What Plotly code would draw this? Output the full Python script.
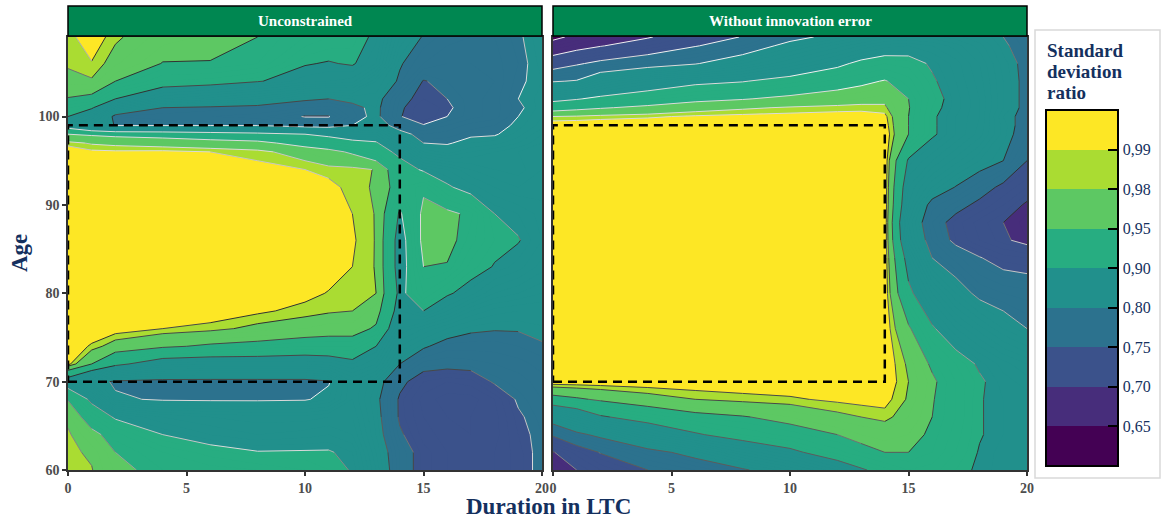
import numpy as np
import plotly.graph_objects as go

# ---------------- data ----------------
duration_unc = [0, 1, 2, 4, 6, 8, 10, 11, 12, 13, 14, 15, 16, 17, 18, 19, 20]
age_unc = [60, 62, 64, 66, 68, 70, 72, 74, 76, 78, 80, 83, 86, 89, 92, 94, 96, 97, 98, 99, 100, 101, 102, 104, 106, 109]
ratio_unc = [
    [0.985, 0.981, 0.958, 0.940, 0.935, 0.930, 0.920, 0.910, 0.898, 0.840, 0.770, 0.735, 0.720, 0.715, 0.720, 0.735, 0.760],
    [0.984, 0.977, 0.950, 0.930, 0.915, 0.902, 0.903, 0.903, 0.890, 0.830, 0.770, 0.735, 0.720, 0.715, 0.720, 0.735, 0.760],
    [0.983, 0.960, 0.935, 0.900, 0.880, 0.870, 0.875, 0.880, 0.870, 0.820, 0.755, 0.725, 0.715, 0.710, 0.715, 0.740, 0.760],
    [0.975, 0.930, 0.895, 0.870, 0.860, 0.855, 0.855, 0.860, 0.860, 0.815, 0.745, 0.720, 0.710, 0.710, 0.715, 0.745, 0.765],
    [0.948, 0.890, 0.805, 0.796, 0.795, 0.795, 0.797, 0.810, 0.850, 0.810, 0.745, 0.715, 0.705, 0.705, 0.720, 0.755, 0.770],
    [0.870, 0.815, 0.795, 0.790, 0.790, 0.790, 0.790, 0.797, 0.850, 0.820, 0.760, 0.730, 0.720, 0.725, 0.755, 0.765, 0.775],
    [0.995, 0.950, 0.910, 0.875, 0.870, 0.870, 0.870, 0.875, 0.890, 0.870, 0.800, 0.765, 0.762, 0.765, 0.770, 0.775, 0.785],
    [1.000, 0.988, 0.970, 0.955, 0.945, 0.940, 0.930, 0.930, 0.930, 0.900, 0.830, 0.805, 0.785, 0.785, 0.785, 0.790, 0.797],
    [1.000, 1.000, 0.998, 0.990, 0.985, 0.975, 0.970, 0.965, 0.965, 0.945, 0.860, 0.840, 0.820, 0.805, 0.802, 0.802, 0.808],
    [1.000, 1.000, 1.000, 1.000, 1.000, 0.993, 0.985, 0.982, 0.980, 0.965, 0.880, 0.900, 0.870, 0.840, 0.825, 0.820, 0.820],
    [1.000, 1.000, 1.000, 1.000, 1.000, 1.000, 0.995, 0.989, 0.984, 0.980, 0.890, 0.930, 0.905, 0.885, 0.860, 0.850, 0.840],
    [1.000, 1.000, 1.000, 1.000, 1.000, 1.000, 1.000, 0.998, 0.990, 0.979, 0.880, 0.950, 0.948, 0.915, 0.898, 0.885, 0.865],
    [1.000, 1.000, 1.000, 1.000, 1.000, 1.000, 1.000, 1.000, 0.992, 0.979, 0.880, 0.960, 0.960, 0.935, 0.910, 0.902, 0.880],
    [1.000, 1.000, 1.000, 1.000, 1.000, 1.000, 1.000, 0.998, 0.990, 0.979, 0.895, 0.958, 0.958, 0.943, 0.900, 0.890, 0.875],
    [1.000, 1.000, 1.000, 1.000, 1.000, 1.000, 1.000, 0.995, 0.985, 0.978, 0.930, 0.945, 0.905, 0.885, 0.870, 0.860, 0.865],
    [1.000, 1.000, 1.000, 1.000, 0.998, 0.995, 0.990, 0.985, 0.985, 0.979, 0.920, 0.895, 0.880, 0.860, 0.850, 0.845, 0.860],
    [1.000, 0.993, 0.992, 0.993, 0.990, 0.985, 0.970, 0.960, 0.945, 0.920, 0.890, 0.830, 0.815, 0.830, 0.840, 0.850, 0.860],
    [0.985, 0.978, 0.975, 0.970, 0.965, 0.960, 0.935, 0.925, 0.915, 0.905, 0.850, 0.800, 0.797, 0.810, 0.815, 0.830, 0.850],
    [0.950, 0.945, 0.940, 0.935, 0.925, 0.915, 0.900, 0.890, 0.870, 0.870, 0.820, 0.780, 0.785, 0.795, 0.797, 0.815, 0.840],
    [0.875, 0.830, 0.798, 0.798, 0.798, 0.798, 0.780, 0.775, 0.800, 0.830, 0.775, 0.752, 0.770, 0.785, 0.790, 0.805, 0.825],
    [0.900, 0.860, 0.790, 0.785, 0.780, 0.775, 0.748, 0.748, 0.785, 0.810, 0.752, 0.730, 0.750, 0.765, 0.775, 0.800, 0.820],
    [0.920, 0.905, 0.840, 0.800, 0.795, 0.790, 0.780, 0.775, 0.790, 0.810, 0.755, 0.730, 0.745, 0.765, 0.775, 0.795, 0.815],
    [0.948, 0.940, 0.900, 0.860, 0.845, 0.830, 0.805, 0.800, 0.810, 0.815, 0.760, 0.740, 0.750, 0.765, 0.775, 0.800, 0.815],
    [0.975, 0.978, 0.950, 0.920, 0.915, 0.902, 0.885, 0.880, 0.875, 0.830, 0.795, 0.748, 0.760, 0.765, 0.770, 0.795, 0.810],
    [0.982, 0.989, 0.972, 0.949, 0.949, 0.940, 0.902, 0.898, 0.903, 0.880, 0.803, 0.780, 0.770, 0.770, 0.775, 0.790, 0.815],
    [0.985, 1.000, 0.983, 0.965, 0.958, 0.950, 0.930, 0.920, 0.915, 0.893, 0.830, 0.797, 0.785, 0.780, 0.780, 0.795, 0.820],
]

duration_inn = [0, 1, 2, 4, 6, 8, 10, 12, 13, 14, 15, 16, 17, 18, 19, 20]
age_inn = [60, 62, 64, 66, 68, 70, 72, 76, 80, 84, 86, 88, 90, 92, 95, 98, 99, 100, 101, 102, 104, 106, 108, 109]
ratio_inn = [
    [0.670, 0.700, 0.720, 0.750, 0.770, 0.795, 0.830, 0.870, 0.895, 0.915, 0.930, 0.925, 0.910, 0.895, 0.885, 0.880],
    [0.698, 0.725, 0.752, 0.785, 0.815, 0.860, 0.890, 0.925, 0.940, 0.950, 0.950, 0.940, 0.920, 0.898, 0.885, 0.880],
    [0.755, 0.790, 0.810, 0.860, 0.895, 0.920, 0.935, 0.950, 0.960, 0.965, 0.960, 0.945, 0.925, 0.902, 0.890, 0.885],
    [0.830, 0.860, 0.895, 0.920, 0.940, 0.948, 0.960, 0.975, 0.980, 0.985, 0.970, 0.950, 0.930, 0.902, 0.890, 0.885],
    [0.935, 0.945, 0.955, 0.970, 0.980, 0.985, 0.988, 0.993, 0.995, 0.995, 0.978, 0.952, 0.930, 0.902, 0.890, 0.885],
    [1.000, 1.000, 1.000, 1.000, 1.000, 1.000, 1.000, 1.000, 1.000, 1.000, 0.980, 0.955, 0.930, 0.905, 0.885, 0.875],
    [1.000, 1.000, 1.000, 1.000, 1.000, 1.000, 1.000, 1.000, 1.000, 1.000, 0.977, 0.945, 0.920, 0.895, 0.875, 0.860],
    [1.000, 1.000, 1.000, 1.000, 1.000, 1.000, 1.000, 1.000, 1.000, 1.000, 0.955, 0.905, 0.870, 0.845, 0.820, 0.800],
    [1.000, 1.000, 1.000, 1.000, 1.000, 1.000, 1.000, 1.000, 1.000, 1.000, 0.910, 0.860, 0.820, 0.790, 0.780, 0.775],
    [1.000, 1.000, 1.000, 1.000, 1.000, 1.000, 1.000, 1.000, 1.000, 1.000, 0.880, 0.800, 0.775, 0.752, 0.735, 0.730],
    [1.000, 1.000, 1.000, 1.000, 1.000, 1.000, 1.000, 1.000, 1.000, 1.000, 0.850, 0.780, 0.740, 0.720, 0.705, 0.690],
    [1.000, 1.000, 1.000, 1.000, 1.000, 1.000, 1.000, 1.000, 1.000, 1.000, 0.840, 0.770, 0.735, 0.715, 0.700, 0.685],
    [1.000, 1.000, 1.000, 1.000, 1.000, 1.000, 1.000, 1.000, 1.000, 1.000, 0.860, 0.785, 0.765, 0.740, 0.720, 0.695],
    [1.000, 1.000, 1.000, 1.000, 1.000, 1.000, 1.000, 1.000, 1.000, 1.000, 0.870, 0.830, 0.798, 0.770, 0.740, 0.720],
    [1.000, 1.000, 1.000, 1.000, 1.000, 1.000, 1.000, 1.000, 1.000, 1.000, 0.895, 0.870, 0.845, 0.820, 0.800, 0.750],
    [1.000, 1.000, 1.000, 1.000, 1.000, 1.000, 1.000, 1.000, 1.000, 1.000, 0.950, 0.905, 0.880, 0.855, 0.815, 0.780],
    [1.000, 1.000, 1.000, 1.000, 1.000, 1.000, 1.000, 1.000, 1.000, 0.997, 0.950, 0.905, 0.880, 0.858, 0.815, 0.785],
    [0.980, 0.982, 0.985, 0.988, 0.992, 0.994, 0.995, 0.996, 0.996, 0.994, 0.950, 0.905, 0.880, 0.860, 0.810, 0.790],
    [0.932, 0.940, 0.947, 0.958, 0.970, 0.977, 0.982, 0.985, 0.986, 0.983, 0.952, 0.910, 0.885, 0.860, 0.820, 0.790],
    [0.886, 0.897, 0.910, 0.925, 0.940, 0.948, 0.958, 0.965, 0.970, 0.975, 0.950, 0.915, 0.885, 0.860, 0.820, 0.790],
    [0.797, 0.803, 0.840, 0.870, 0.890, 0.898, 0.915, 0.935, 0.943, 0.952, 0.935, 0.905, 0.880, 0.855, 0.820, 0.790],
    [0.727, 0.745, 0.760, 0.780, 0.797, 0.830, 0.860, 0.890, 0.910, 0.920, 0.915, 0.895, 0.875, 0.850, 0.815, 0.790],
    [0.668, 0.685, 0.698, 0.720, 0.748, 0.770, 0.815, 0.845, 0.860, 0.875, 0.880, 0.870, 0.855, 0.835, 0.805, 0.785],
    [0.640, 0.660, 0.675, 0.697, 0.725, 0.752, 0.785, 0.815, 0.830, 0.845, 0.850, 0.845, 0.835, 0.820, 0.800, 0.780],
]

band_breaks = [0.65, 0.70, 0.75, 0.80, 0.90, 0.95, 0.98, 0.99]
break_labels = ["0,65", "0,70", "0,75", "0,80", "0,90", "0,95", "0,98", "0,99"]
band_colors = ["#440154", "#472D7B", "#3B528B", "#2C728E", "#21908C",
               "#27AD81", "#5DC863", "#AADC32", "#FDE725"]
panel_titles = ["Unconstrained", "Without innovation error"]
legend_title_lines = ["Standard", "deviation", "ratio"]
box_duration = [0, 14]
box_age = [70, 99]
x_ticks = [0, 5, 10, 15, 20]
y_ticks = [60, 70, 80, 90, 100]

# ---------------- styling ----------------
W, H = 1162, 518
SERIF = "Liberation Serif"
NAVY = "#14305E"
STRIP = "#008751"
X_RANGE, Y_RANGE = [0, 20], [60, 109]
PANEL_W, PANEL_H = 474, 433          # plot-area size in px

def px_x(p):
    return p / W

def px_y(p):
    return (H - p) / H

panel_dom_x = [[px_x(68), px_x(542)], [px_x(553), px_x(1027)]]
dom_y = [px_y(470), px_y(37)]

# fill colorscale (values expressed in percent, 1-point contour steps)
lo, hi = 64.5, 99.5
def pos(v):
    return (v - lo) / (hi - lo)

fill_cs = [[0.0, band_colors[0]]]
for i, b in enumerate(band_breaks):
    p = pos(b * 100)
    fill_cs.append([p, band_colors[i]])
    fill_cs.append([p, band_colors[i + 1]])
fill_cs.append([1.0, band_colors[-1]])


# ---- illuminated ("Tanaka"-style) contour lines: marching squares on the data grid ----
sx = PANEL_W / (X_RANGE[1] - X_RANGE[0])   # px per duration unit
sy = PANEL_H / (Y_RANGE[1] - Y_RANGE[0])   # px per age unit
light = np.array([1.0, -1.0]) / np.sqrt(2.0)   # light shading direction (screen, y up)
N_SHADES = 10


def contour_segments(xs, ys, Z, level):
    out = []
    for i in range(len(ys) - 1):
        for j in range(len(xs) - 1):
            x0, x1, y0, y1 = xs[j], xs[j + 1], ys[i], ys[i + 1]
            a, b, c, d = Z[i, j], Z[i, j + 1], Z[i + 1, j + 1], Z[i + 1, j]
            corners = [(x0, y0, a), (x1, y0, b), (x1, y1, c), (x0, y1, d)]
            pts = []
            for k in range(4):
                xa, ya, va = corners[k]
                xb, yb, vb = corners[(k + 1) % 4]
                if (va >= level) != (vb >= level):
                    t = (level - va) / (vb - va)
                    pts.append((xa + t * (xb - xa), ya + t * (yb - ya)))
                else:
                    pts.append(None)
            found = [p for p in pts if p is not None]
            if not found:
                continue
            gx = ((b - a) + (c - d)) / 2.0 / ((x1 - x0) * sx)
            gy = ((d - a) + (c - b)) / 2.0 / ((y1 - y0) * sy)
            g = np.array([gx, gy])
            n = np.hypot(gx, gy)
            shade = 0.5 if n == 0 else (float(g @ light) / n + 1.0) / 2.0
            if len(found) == 2:
                out.append((found[0], found[1], shade))
            elif len(found) == 4:
                centre = (a + b + c + d) / 4.0
                if (centre >= level) == (a >= level):
                    out.append((pts[0], pts[1], shade))
                    out.append((pts[2], pts[3], shade))
                else:
                    out.append((pts[3], pts[0], shade))
                    out.append((pts[1], pts[2], shade))
    return out


def shade_color(t):
    dark = np.array([40, 40, 40])
    lite = np.array([250, 250, 250])
    c = dark + (lite - dark) * t
    return "rgb(%d,%d,%d)" % tuple(int(round(v)) for v in c)


fig = go.Figure()

panels = [
    (duration_unc, age_unc, ratio_unc, "x", "y"),
    (duration_inn, age_inn, ratio_inn, "x2", "y2"),
]

for dur, age, ratio, xa, ya in panels:
    z = np.array(ratio) * 100.0
    fig.add_trace(go.Contour(
        x=dur, y=age, z=z, xaxis=xa, yaxis=ya,
        autocontour=False,
        contours=dict(start=65, end=99, size=1, coloring="fill", showlines=False),
        colorscale=fill_cs, showscale=False,
        line=dict(width=0, smoothing=0),
        hoverinfo="skip",
    ))
    bins = [([], []) for _ in range(N_SHADES)]
    for b in band_breaks:
        for p, q, s in contour_segments(dur, age, z, b * 100.0):
            k = min(N_SHADES - 1, int(s * N_SHADES))
            bins[k][0].extend([p[0], q[0], None])
            bins[k][1].extend([p[1], q[1], None])
    for k, (bx, by) in enumerate(bins):
        if not bx:
            continue
        fig.add_trace(go.Scatter(
            x=bx, y=by, xaxis=xa, yaxis=ya, mode="lines",
            line=dict(color=shade_color((k + 0.5) / N_SHADES), width=1),
            hoverinfo="skip", showlegend=False, connectgaps=False,
        ))

# colour bar via an off-range heatmap (equal-height bands)
nb = len(band_colors)
cb_cs = []
for i, c in enumerate(band_colors):
    cb_cs.append([i / nb, c])
    cb_cs.append([(i + 1) / nb, c])
cb_top, cb_bot = 110, 466
fig.add_trace(go.Heatmap(
    z=[[0, nb]], x=[-40, -39], y=[0], xaxis="x", yaxis="y",
    zmin=0, zmax=nb, colorscale=cb_cs, showscale=True, hoverinfo="skip",
    colorbar=dict(
        x=px_x(1046), xanchor="left", xpad=0, ypad=0,
        y=px_y((cb_top + cb_bot) / 2), yanchor="middle",
        len=(cb_bot - cb_top) / H, lenmode="fraction",
        thickness=72, thicknessmode="pixels",
        outlinewidth=2, outlinecolor="black",
        tickvals=list(range(1, nb)), ticktext=break_labels,
        ticks="inside", ticklen=11, tickwidth=1.5, tickcolor="black",
        tickfont=dict(family=SERIF, size=16, color=NAVY),
    ),
))

shapes = []
annotations = []
# legend frame
shapes.append(dict(type="rect", xref="paper", yref="paper", layer="below",
                   x0=px_x(1035), x1=px_x(1160), y0=px_y(478), y1=px_y(30),
                   line=dict(color="#d9d9d9", width=1.5), fillcolor="white"))
# left-side tick marks of colour bar
for k in range(1, nb):
    yy = cb_bot - k * (cb_bot - cb_top) / nb
    shapes.append(dict(type="line", xref="paper", yref="paper",
                       x0=px_x(1046), x1=px_x(1057), y0=px_y(yy), y1=px_y(yy),
                       line=dict(color="black", width=1.5)))
# legend title, one annotation per line for ggplot-like tight line spacing
for li, txt in enumerate(legend_title_lines):
    annotations.append(dict(xref="paper", yref="paper", x=px_x(1045), y=px_y(50 + 21.5 * li),
                            xanchor="left", yanchor="middle", align="left", showarrow=False,
                            text=txt,
                            font=dict(family=SERIF, size=19, color=NAVY, weight="bold")))

for i, (xa, ya) in enumerate([("x", "y"), ("x2", "y2")]):
    d = panel_dom_x[i]
    shapes.append(dict(type="rect", xref="paper", yref="paper",
                       x0=d[0], x1=d[1], y0=px_y(36), y1=px_y(6),
                       fillcolor=STRIP, line=dict(color="black", width=1.5)))
    annotations.append(dict(xref="paper", yref="paper", x=(d[0] + d[1]) / 2, y=px_y(21),
                            xanchor="center", yanchor="middle", showarrow=False,
                            text=panel_titles[i],
                            font=dict(family=SERIF, size=15, color="white", weight="bold")))
    shapes.append(dict(type="rect", xref=xa, yref=ya,
                       x0=box_duration[0], x1=box_duration[1], y0=box_age[0], y1=box_age[1],
                       line=dict(color="black", width=2.5, dash="9px,6px")))

annotations.append(dict(xref="paper", yref="paper", x=px_x(548), y=px_y(506),
                        xanchor="center", yanchor="middle", showarrow=False,
                        text="Duration in LTC",
                        font=dict(family=SERIF, size=23, color=NAVY, weight="bold")))
annotations.append(dict(xref="paper", yref="paper", x=px_x(19), y=px_y(253),
                        xanchor="center", yanchor="middle", showarrow=False, textangle=-90,
                        text="Age",
                        font=dict(family=SERIF, size=23, color=NAVY, weight="bold")))

tickfont = dict(family=SERIF, size=14, color="#4D4D4D", weight="bold")
axis_common = dict(showgrid=False, zeroline=False, showline=True, linecolor="#333333",
                   linewidth=1.5, mirror=True, ticks="outside", ticklen=4, tickwidth=1.5,
                   tickcolor="#333333", tickfont=tickfont, automargin=False)

fig.update_layout(
    width=W, height=H,
    margin=dict(l=0, r=0, t=0, b=0, pad=0, autoexpand=False),
    paper_bgcolor="white", plot_bgcolor="white",
    showlegend=False,
    shapes=shapes, annotations=annotations,
    xaxis=dict(domain=panel_dom_x[0], range=X_RANGE, tickvals=x_ticks, anchor="y", **axis_common),
    yaxis=dict(domain=dom_y, range=Y_RANGE, tickvals=y_ticks, anchor="x", **axis_common),
    xaxis2=dict(domain=panel_dom_x[1], range=X_RANGE, tickvals=x_ticks, anchor="y2", **axis_common),
    yaxis2=dict(domain=dom_y, range=Y_RANGE, tickvals=y_ticks, anchor="x2",
                showticklabels=False, **{k: v for k, v in axis_common.items() if k != "ticks"}, ticks=""),
)

fig.write_html(
    "out.html",
    config={"displayModeBar": False},
    post_script="document.body.style.margin='0px';document.body.style.overflow='hidden';",
)
